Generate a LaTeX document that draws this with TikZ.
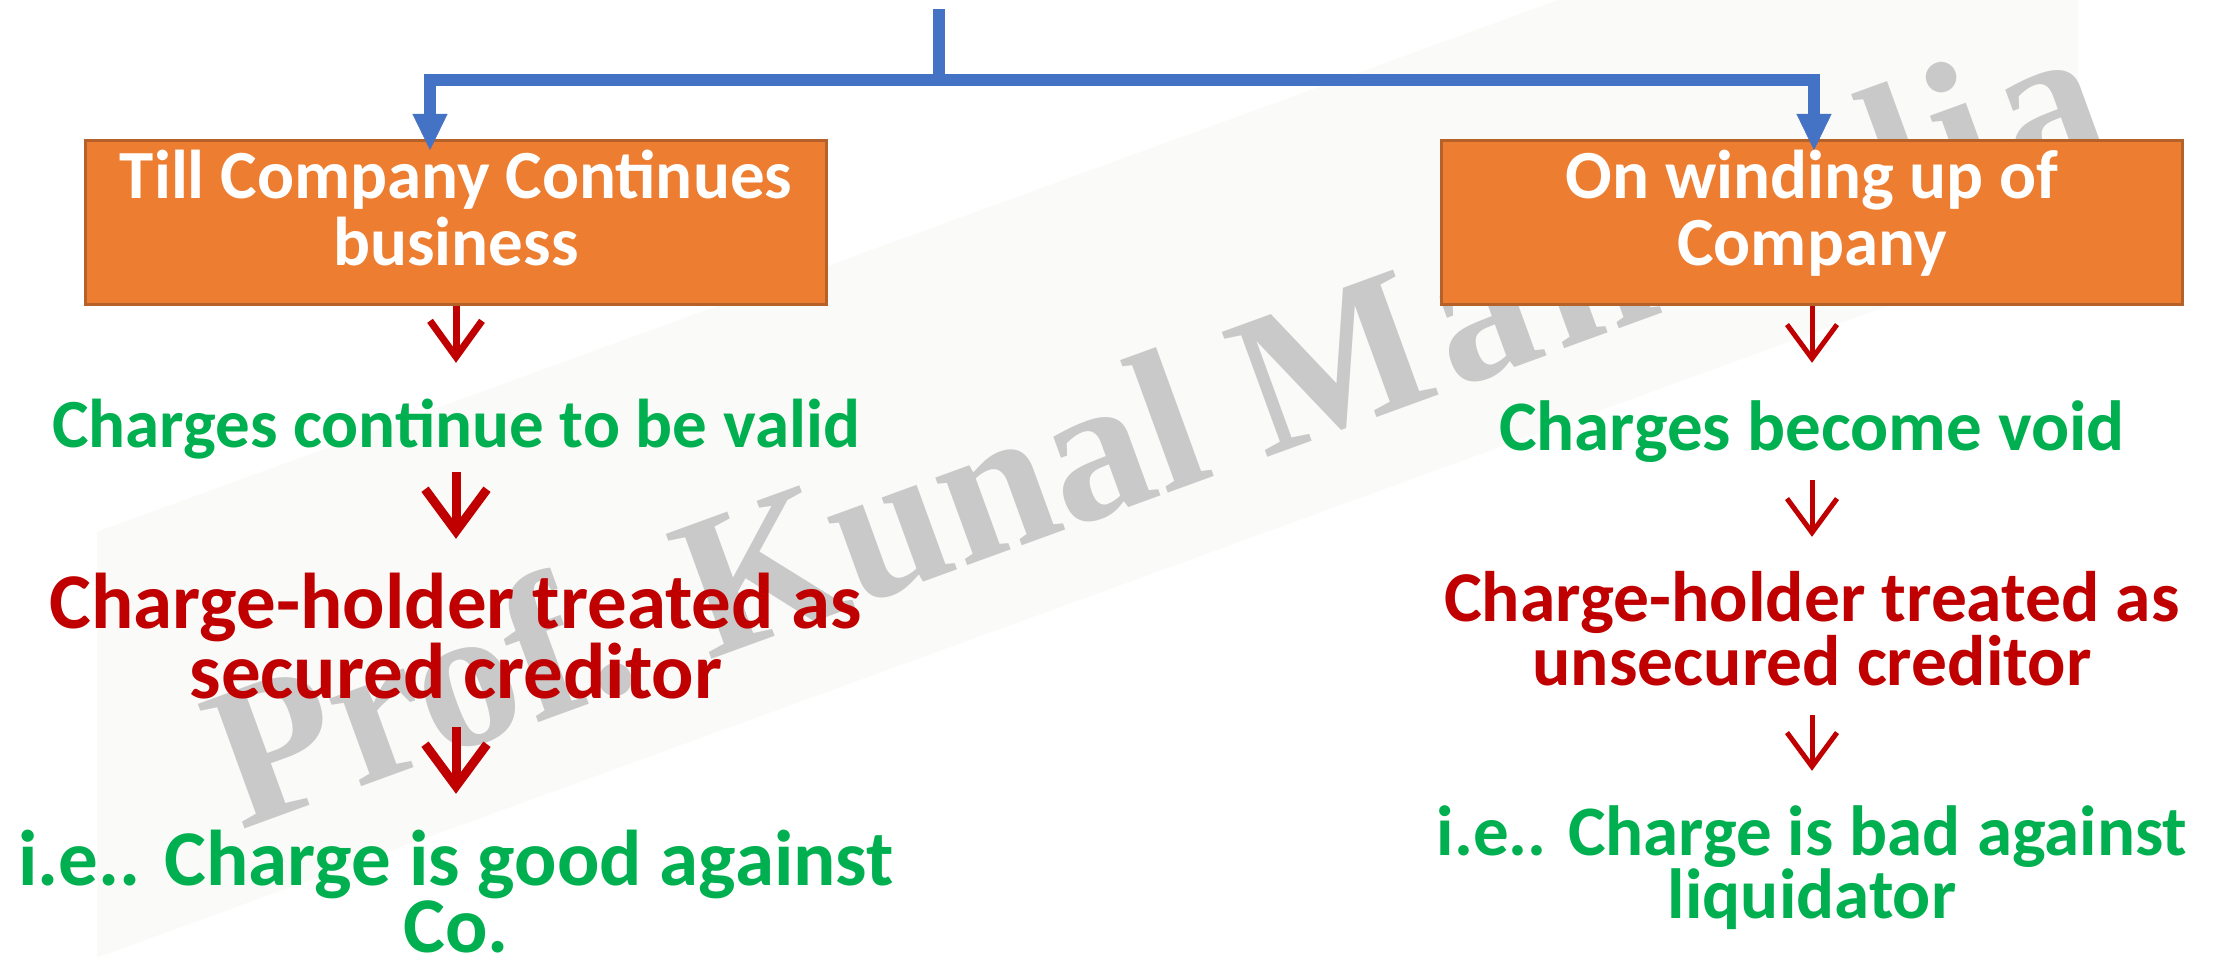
\documentclass[tikz,border=0pt]{standalone}
\usepackage{fontspec}
\setmainfont{Carlito}
\newfontfamily\wmserif{Liberation Serif}
\usetikzlibrary{arrows.meta,calc}

\definecolor{cblue}{HTML}{4472C4}
\definecolor{corange}{HTML}{ED7D31}
\definecolor{cedge}{HTML}{B4622A}
\definecolor{cgreen}{HTML}{00B050}
\definecolor{cred}{HTML}{C00000}
\definecolor{cwm}{HTML}{C9C9C9}
\definecolor{cband}{HTML}{FAFAF8}

\tikzset{
  % multi-line nodes sit on the baseline of their last line
  obox/.style={fill=corange, draw=cedge, line width=3pt, inner sep=0pt,
    minimum width=741pt, text=white, align=center, anchor=base,
    font=\fontsize{69}{67}\selectfont\bfseries,
    text height=125.5pt, text depth=38.5pt},
  ftext/.style={align=center, inner sep=0pt, anchor=base, text depth=18pt},
  gtxt/.style={ftext, text=cgreen},
  rtxt/.style={ftext, text=cred},
  bline/.style={cblue, line width=12pt, line join=miter},
  barrow/.style={-{Triangle[length=36pt,width=35pt,line width=0.5pt]}},
  rarrA/.style={cred, line width=7pt, -{Straight Barb[length=36pt,width=52pt]}},
  rarrB/.style={cred, line width=9pt, -{Straight Barb[length=42pt,width=62pt]}},
  rarrC/.style={cred, line width=5pt, -{Straight Barb[length=34pt,width=50pt]}},
  wm/.style={rotate=20, anchor=base west, inner sep=0pt, text=cwm,
    font=\wmserif\bfseries\fontsize{203}{203}\selectfont},
}

\begin{document}
\begin{tikzpicture}[x=1pt,y=-1pt]
\useasboundingbox (0,0) rectangle (2219,957);
\clip (0,0) rectangle (2219,957);

% background with a faint diagonal band behind the watermark
\fill[white] (0,0) rectangle (2219,957);
\begin{scope}
  \clip (97,0) rectangle (2078,957);
  \fill[cband, rotate around={20:(240,831)}] (-400,901) rectangle (2800,501);
\end{scope}

% watermark
\node[wm] (wm) at (240,831)
  {Prof. Kunal {\addfontfeature{LetterSpace=5}Mandalia}};

% the two headings
\node[obox] (boxL) at (456,266) {Till Company Continues\\business};
\node[obox] (boxR) at (1812,266) {On winding up of\\Company};

% blue fork from the top into both headings
\coordinate (top) at (939,9);
\coordinate (fork) at (939,80);
\coordinate (tipL) at ($(boxL.north)+(-26,11)$);
\coordinate (tipR) at ($(boxR.north)+(2,11)$);
\draw[bline] (top) -- (fork);
\draw[bline, barrow] (fork) -| (tipL);
\draw[bline, barrow] (fork) -| (tipR);

% left column
\node[gtxt, font=\fontsize{69}{67}\selectfont\bfseries, text height=55pt]
  (gL1) at (456,447) {Charges continue to be valid};
\node[rtxt, font=\fontsize{79}{66}\selectfont\bfseries, text height=121pt]
  (rL) at (456,698) {Charge-holder treated as\\secured creditor};
\node[gtxt, font=\fontsize{79}{67}\selectfont\bfseries, text height=122pt]
  (gL2) at (456,952) {i.e.. Charge is good against\\Co.};

\draw[rarrA, shorten >=29pt] (boxL.south) -- (gL1.north);
\draw[rarrB, shorten <=7pt, shorten >=38pt] (gL1.south) -- (rL.north);
\draw[rarrB, shorten <=11pt, shorten >=36pt] (rL.south) -- (gL2.north);

% right column
\node[gtxt, font=\fontsize{71}{60}\selectfont\bfseries, text height=55pt]
  (gR1) at (1812,450) {Charges become void};
\node[rtxt, font=\fontsize{71.5}{60}\selectfont\bfseries, text height=115pt]
  (rR) at (1812,685) {Charge-holder treated as\\unsecured creditor};
\node[gtxt, font=\fontsize{71}{60}\selectfont\bfseries, text height=115pt]
  (gR2) at (1812,918) {i.e.. Charge is bad against\\liquidator};

\draw[rarrC, shorten >=32pt] (boxR.south) -- (gR1.north);
\draw[rarrC, shorten <=12pt, shorten >=33pt] (gR1.south) -- (rR.north);
\draw[rarrC, shorten <=12pt, shorten >=32pt] (rR.south) -- (gR2.north);
\end{tikzpicture}
\end{document}
